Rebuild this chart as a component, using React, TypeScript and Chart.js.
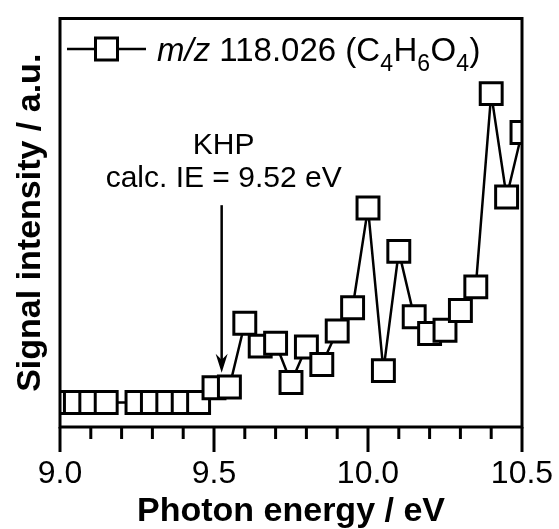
import React, { useEffect, useRef } from "react";
import { Chart, registerables } from "chart.js";

Chart.register(...registerables);

// ---- data ----
const photonEnergy: number[] = [
  9.0, 9.05, 9.1, 9.15, 9.25, 9.3, 9.35, 9.4, 9.45,
  9.5, 9.55, 9.6, 9.65, 9.7, 9.75, 9.8, 9.85, 9.9, 9.95,
  10.0, 10.05, 10.1, 10.15, 10.2, 10.25, 10.3, 10.35, 10.4, 10.45, 10.5,
];
const signalIntensity: number[] = [
  6, 6, 6, 6, 6, 6, 6, 6, 6,
  9.6, 9.8, 25.4, 19.8, 20.5, 10.9, 19.6, 15.3, 23.5, 29.2,
  53.6, 13.8, 43.0, 27.0, 22.9, 23.7, 28.5, 34.3, 81.6, 56.3, 72.1,
];
const xMin = 9.0;
const xMax = 10.5;
const yMin = 0;
const yMax = 100;
const minorStep = 0.1;
const majorStep = 0.5;

// annotation (calculated ionization energy of KHP)
const ieValue = 9.52;
const annotationLines: string[] = ["KHP", "calc. IE = 9.52 eV"];
const annotationTextY: number[] = [66.9, 58.7];
const arrowTopY = 54.3;
const arrowTipY = 13.3;

// legend pieces: [text, style]  style: i = italic, n = normal, s = subscript
const legendPieces: [string, string][] = [
  ["m/z", "i"],
  [" 118.026 (C", "n"],
  ["4", "s"],
  ["H", "n"],
  ["6", "s"],
  ["O", "n"],
  ["4", "s"],
  [")", "n"],
];

const FONT = "'Liberation Sans', Arial, Helvetica, sans-serif";

const decorPlugin = {
  id: "decor",
  afterDatasetsDraw(chart: any) {
    const { ctx, chartArea: ca } = chart;
    const xs = chart.scales.x;
    ctx.save();
    ctx.strokeStyle = "#000";
    ctx.lineWidth = 3;
    ctx.strokeRect(ca.left, ca.top, ca.right - ca.left, ca.bottom - ca.top);
    // tick marks
    ctx.lineCap = "butt";
    for (const t of xs.ticks) {
      const px = xs.getPixelForValue(t.value);
      const r = t.value / majorStep;
      const major = Math.abs(r - Math.round(r)) < 1e-6;
      ctx.beginPath();
      ctx.moveTo(px, ca.bottom);
      ctx.lineTo(px, ca.bottom + (major ? 25 : 12));
      ctx.stroke();
    }
    ctx.restore();
  },
  afterDraw(chart: any) {
    const { ctx, chartArea: ca } = chart;
    const xs = chart.scales.x;
    const ys = chart.scales.y;
    ctx.save();
    ctx.fillStyle = "#000";
    ctx.strokeStyle = "#000";

    // annotation arrow
    const ax = xs.getPixelForValue(ieValue) + 1.5;
    const yTop = ys.getPixelForValue(arrowTopY);
    const yTip = ys.getPixelForValue(arrowTipY);
    ctx.lineWidth = 2.5;
    ctx.beginPath();
    ctx.moveTo(ax, yTop);
    ctx.lineTo(ax, yTip - 10);
    ctx.stroke();
    ctx.beginPath();
    ctx.moveTo(ax, yTip);
    ctx.lineTo(ax - 6, yTip - 19);
    ctx.lineTo(ax, yTip - 13);
    ctx.lineTo(ax + 6, yTip - 19);
    ctx.closePath();
    ctx.fill();

    ctx.font = `30px ${FONT}`;
    ctx.textAlign = "center";
    ctx.textBaseline = "alphabetic";
    annotationLines.forEach((line, i) => {
      ctx.fillText(line, ax + 2, ys.getPixelForValue(annotationTextY[i]));
    });

    // legend
    const ly = ca.top + 30.5;
    ctx.lineWidth = 2.5;
    ctx.beginPath();
    ctx.moveTo(ca.left + 7, ly);
    ctx.lineTo(ca.left + 86, ly);
    ctx.stroke();
    ctx.fillStyle = "#fff";
    ctx.lineWidth = 3;
    ctx.fillRect(ca.left + 35.5, ly - 11, 22, 22);
    ctx.strokeRect(ca.left + 35.5, ly - 11, 22, 22);
    ctx.fillStyle = "#000";
    ctx.textAlign = "left";
    let tx = ca.left + 97;
    const baseY = ca.top + 42;
    for (const [txt, st] of legendPieces) {
      if (st === "i") ctx.font = `italic 33px ${FONT}`;
      else if (st === "s") ctx.font = `23px ${FONT}`;
      else ctx.font = `33px ${FONT}`;
      const yy = st === "s" ? baseY + 10 : baseY;
      ctx.fillText(txt, tx, yy);
      tx += ctx.measureText(txt).width + (st === "s" ? 0.5 : 0);
    }
    ctx.restore();
  },
};

export default function App() {
  const ref = useRef<HTMLCanvasElement | null>(null);

  useEffect(() => {
    if (!ref.current) return;
    const data = photonEnergy.map((x, i) => ({ x, y: signalIntensity[i] }));
    const chart = new Chart(ref.current, {
      type: "line",
      data: {
        datasets: [
          {
            label: "m/z 118.026 (C4H6O4)",
            data,
            borderColor: "#000",
            borderWidth: 2.5,
            pointStyle: "rect",
            pointRadius: 15.5,
            pointBorderWidth: 3,
            pointBorderColor: "#000",
            pointBackgroundColor: "#fff",
            pointHoverRadius: 15.5,
            tension: 0,
            clip: 0,
          } as any,
        ],
      },
      options: {
        animation: false,
        responsive: false,
        devicePixelRatio: 1,
        events: [],
        layout: { padding: { left: 0, top: 13, right: 37, bottom: 0 } },
        plugins: {
          legend: { display: false },
          tooltip: { enabled: false },
        },
        scales: {
          x: {
            type: "linear",
            min: xMin,
            max: xMax,
            grid: { display: false, drawTicks: false },
            border: { display: false },
            ticks: {
              stepSize: minorStep,
              autoSkip: false,
              maxRotation: 0,
              padding: 0,
              color: "#000",
              font: { family: FONT, size: 32, lineHeight: 2.94 },
              callback: (v: any) => {
                const val = Number(v);
                const r = val / majorStep;
                return Math.abs(r - Math.round(r)) < 1e-6 ? val.toFixed(1) : "";
              },
            },
            title: {
              display: true,
              text: "Photon energy / eV",
              color: "#000",
              font: { family: FONT, size: 34, weight: "bold", lineHeight: 1 },
              padding: { top: 0, bottom: 0 },
            },
            afterFit: (scale: any) => {
              scale.height = 102;
            },
          },
          y: {
            type: "linear",
            min: yMin,
            max: yMax,
            grid: { display: false, drawTicks: false },
            border: { display: false },
            ticks: { display: false },
            title: {
              display: true,
              text: "Signal intensity / a.u.",
              color: "#000",
              font: { family: FONT, size: 34, weight: "bold", lineHeight: 1 },
              padding: { top: 14, bottom: 0 },
            },
            afterFit: (scale: any) => {
              scale.width = 60;
            },
          },
        },
      } as any,
      plugins: [decorPlugin],
    });
    return () => chart.destroy();
  }, []);

  return (
    <div style={{ position: "absolute", left: 0, top: 0, width: 559, height: 529, background: "#fff" }}>
      <canvas ref={ref} width={559} height={529} style={{ display: "block" }} />
    </div>
  );
}
